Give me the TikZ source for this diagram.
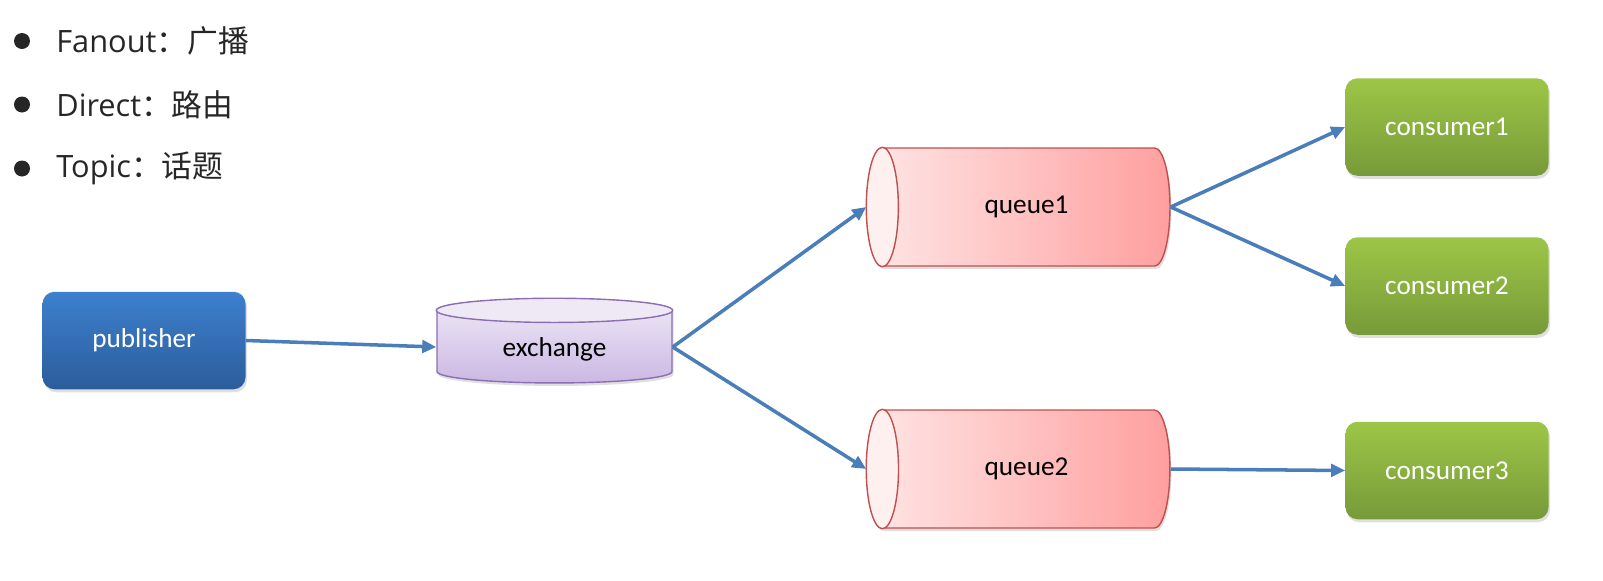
\documentclass[tikz,border=0pt]{standalone}
\usepackage{fontspec}
\setmainfont{Carlito}
\newfontfamily\cjkfont{Noto Sans CJK SC}
\newfontfamily\itemfont{Open Sans}
\usetikzlibrary{arrows.meta, calc, shapes.geometric, shadows}

\definecolor{linkblue}{HTML}{4A7EBB}
\definecolor{pubtop}{HTML}{3D80CE}
\definecolor{pubbot}{HTML}{2B5D9B}
\definecolor{constop}{HTML}{9DC647}
\definecolor{consbot}{HTML}{779A39}
\definecolor{extop}{HTML}{EFE9F6}
\definecolor{exbot}{HTML}{CBB8E4}
\definecolor{exborder}{HTML}{8B6FB2}
\definecolor{qleft}{HTML}{FFE6E6}
\definecolor{qright}{HTML}{FF9F9F}
\definecolor{qend}{HTML}{FFF0F0}
\definecolor{qborder}{HTML}{C0504D}
\definecolor{itemgray}{HTML}{262626}

\begin{document}
\begin{tikzpicture}[>={Triangle[length=2.8mm, width=2.5mm]},
  shade/.style={drop shadow={shadow xshift=0.3mm, shadow yshift=-0.6mm, opacity=0.25}},
  box/.style={rounded corners=2.4mm, minimum width=4.06cm, minimum height=1.95cm,
    text=white, font=\fontsize{15.5}{18}\selectfont, shade},
  pub/.style={box, top color=pubtop, bottom color=pubbot},
  cons/.style={box, top color=constop, bottom color=consbot},
  queue/.style={cylinder, shape border rotate=180, aspect=1.4, inner sep=0pt,
    minimum width=2.36cm, minimum height=6.06cm, left color=qleft, right color=qright,
    draw=qborder, line width=0.8pt, font=\fontsize{15.5}{18}\selectfont, shade},
  exch/.style={cylinder, shape border rotate=90, aspect=0.22, inner sep=0pt,
    minimum width=4.7cm, minimum height=1.68cm, top color=extop, bottom color=exbot,
    draw=exborder, line width=0.8pt, font=\fontsize{15.5}{18}\selectfont, shade},
  link/.style={->, draw=linkblue, line width=2pt},
  dot/.style={circle, fill=itemgray, inner sep=0pt, minimum size=3.2mm},
  item/.style={anchor=west, inner sep=0pt, text=itemgray, font=\fontsize{17.5}{21}\selectfont}]
  \useasboundingbox (0,0) rectangle (32.06,-11.6);

  % the three exchange types
  \node[dot] (d1) at (0.44,-0.82) {};
  \node[dot] (d2) at (0.44,-2.09) {};
  \node[dot] (d3) at (0.44,-3.37) {};
  \node[item] (fanout) at (1.12,-0.82) {\itemfont Fanout\cjkfont ：广播};
  \node[item] (direct) at (1.12,-2.09) {\itemfont Direct\cjkfont ：路由};
  \node[item] (topic) at (1.12,-3.37) {\itemfont Topic\cjkfont ：话题};

  % boxes
  \node[pub] (pub) at (2.88,-6.81) {publisher};
  \node[exch] (ex) at (11.09,-6.94) {\raisebox{-4.8mm}{exchange}};
  \node[queue] (q1) at (20.53,-4.14) {queue1};
  \node[queue] (q2) at (20.53,-9.38) {queue2};
  \node[cons] (c1) at (28.94,-2.54) {consumer1};
  \node[cons] (c2) at (28.94,-5.72) {consumer2};
  \node[cons] (c3) at (28.94,-9.41) {consumer3};

  % visible ends of the cylinders
  \foreach \q in {q1,q2}
    \draw[qborder, fill=qend, line width=0.8pt]
      let \p1=($(\q.before top)!0.5!(\q.after top)$), \p2=(\q.top), \p3=(\q.before top) in
      (\p1) ellipse [x radius={abs(\x1-\x2)}, y radius={abs(\y3-\y1)}];
  \draw[exborder, fill=extop, line width=0.8pt]
    let \p1=($(ex.before top)!0.5!(ex.after top)$), \p2=(ex.top), \p3=(ex.before top) in
    (\p1) ellipse [x radius={abs(\x3-\x1)}, y radius={abs(\y2-\y1)}];

  % links
  \draw[link] (pub.east) -- (ex.west);
  \draw[link] (ex.east) -- (q1.west);
  \draw[link] (ex.east) -- (q2.west);
  \draw[link] (q1.east) -- (c1.west);
  \draw[link] (q1.east) -- (c2.west);
  \draw[link] (q2.east) -- (c3.west);
\end{tikzpicture}
\end{document}
